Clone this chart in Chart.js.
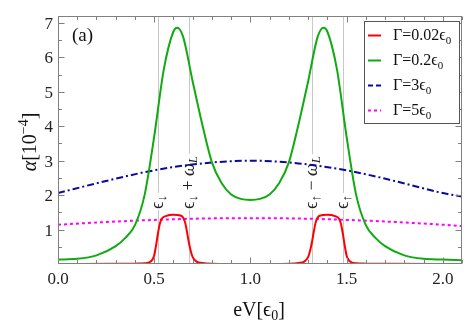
<!DOCTYPE html>
<html>
<head>
<meta charset="utf-8">
<script src="https://cdn.jsdelivr.net/npm/chart.js@4.4.1/dist/chart.umd.min.js"></script>
<style>
  html, body { margin: 0; padding: 0; background: #fff; }
  #wrap { width: 471px; height: 328px; }
</style>
</head>
<body>
<div id="wrap"><canvas id="alphaChart" width="471" height="328"></canvas></div>
<script>
// Γ = 0.02 ε0 (red)
const redX = [0, 0.3, 0.4, 0.45, 0.47, 0.49, 0.5, 0.51, 0.52, 0.53, 0.54, 0.56, 0.6, 0.64, 0.66, 0.67, 0.68, 0.69, 0.7, 0.72, 0.75, 0.8, 1.0,
              1.2, 1.25, 1.28, 1.3, 1.31, 1.32, 1.33, 1.34, 1.36, 1.4, 1.44, 1.46, 1.47, 1.48, 1.49, 1.5, 1.51, 1.53, 1.55, 1.6, 1.7, 2.1];
const redY = [0, 0.005, 0.01, 0.02, 0.04, 0.12, 0.25, 0.55, 0.9, 1.18, 1.32, 1.39, 1.43, 1.4, 1.22, 0.95, 0.63, 0.38, 0.2, 0.07, 0.03, 0.01, 0,
              0.01, 0.03, 0.07, 0.2, 0.38, 0.63, 0.95, 1.22, 1.4, 1.43, 1.39, 1.32, 1.18, 0.9, 0.55, 0.25, 0.12, 0.04, 0.02, 0.01, 0.005, 0];

// Γ = 0.2 ε0 (green)
const greenX = [0, 0.1, 0.2, 0.3, 0.35, 0.4, 0.45, 0.5, 0.55, 0.6, 0.62, 0.65, 0.7, 0.75, 0.8, 0.85, 0.9, 0.95, 1.0,
                1.05, 1.1, 1.15, 1.2, 1.25, 1.3, 1.35, 1.38, 1.4, 1.45, 1.5, 1.55, 1.6, 1.65, 1.7, 1.8, 1.9, 2.0, 2.1];
const greenY = [0.13, 0.15, 0.25, 0.52, 0.76, 1.13, 2.0, 3.7, 5.65, 6.75, 6.86, 6.6, 5.3, 4.05, 2.95, 2.35, 2.02, 1.89, 1.86,
                1.89, 2.02, 2.35, 2.95, 4.05, 5.3, 6.6, 6.86, 6.75, 5.65, 3.7, 2.0, 1.13, 0.76, 0.52, 0.25, 0.15, 0.13, 0.11];

// Γ = 3 ε0 (blue, dash-dot)
const blueX = [0, 0.25, 0.5, 0.75, 1.0, 1.25, 1.5, 1.75, 2.0, 2.1];
const blueY = [2.06, 2.41, 2.72, 2.92, 3.0, 2.92, 2.72, 2.41, 2.06, 1.96];

// Γ = 5 ε0 (magenta, dotted)
const magX = [0, 0.25, 0.5, 0.75, 1.0, 1.25, 1.5, 1.75, 2.0, 2.1];
const magY = [1.14, 1.22, 1.28, 1.32, 1.33, 1.32, 1.28, 1.22, 1.14, 1.1];

// axes
const xMajorTicks = [0, 0.5, 1.0, 1.5, 2.0];
const xTickLabels = ['0.0', '0.5', '1.0', '1.5', '2.0'];
const xMinorTicks = [0.1, 0.2, 0.3, 0.4, 0.6, 0.7, 0.8, 0.9, 1.1, 1.2, 1.3, 1.4, 1.6, 1.7, 1.8, 1.9, 2.1];
const yMajorTicks = [1, 2, 3, 4, 5, 6, 7];
const yTickLabels = ['1', '2', '3', '4', '5', '6', '7'];
const yMinorTicks = [0.5, 1.5, 2.5, 3.5, 4.5, 5.5, 6.5];

// vertical marker lines: ε↓, ε↓+ωL, ε↑−ωL, ε↑
const markX = [0.52, 0.68, 1.32, 1.48];
const markLabels = [
  [{t: 'ϵ'}, {t: '↓', sub: true}],
  [{t: 'ϵ'}, {t: '↓', sub: true}, {t: ' + '}, {t: 'ω', it: true}, {t: 'L', sub: true, it: true}],
  [{t: 'ϵ'}, {t: '↑', sub: true}, {t: ' − '}, {t: 'ω', it: true}, {t: 'L', sub: true, it: true}],
  [{t: 'ϵ'}, {t: '↑', sub: true}]
];

const legendLabels = [
  [{t: 'Γ=0.02'}, {t: 'ϵ'}, {t: '0', sub: true}],
  [{t: 'Γ=0.2'}, {t: 'ϵ'}, {t: '0', sub: true}],
  [{t: 'Γ=3'}, {t: 'ϵ'}, {t: '0', sub: true}],
  [{t: 'Γ=5'}, {t: 'ϵ'}, {t: '0', sub: true}]
];

const SERIF = '"Liberation Serif", "DejaVu Serif", serif';

function fontOf(p, size) {
  const s = (p.sub || p.sup) ? Math.round(size * 0.7) : size;
  return (p.it ? 'italic ' : '') + s + 'px ' + SERIF;
}
function measureRich(ctx, parts, size) {
  let w = 0;
  parts.forEach(p => { ctx.font = fontOf(p, size); w += ctx.measureText(p.t).width; });
  return w;
}
function drawRich(ctx, parts, x, y, size, align) {
  const w = measureRich(ctx, parts, size);
  let cx = align === 'center' ? x - w / 2 : align === 'right' ? x - w : x;
  ctx.textAlign = 'left';
  ctx.textBaseline = 'alphabetic';
  parts.forEach(p => {
    ctx.font = fontOf(p, size);
    const dy = p.sub ? size * 0.22 : p.sup ? -size * 0.42 : 0;
    ctx.fillText(p.t, cx, y + dy);
    cx += ctx.measureText(p.t).width;
  });
  return w;
}

const toPoints = (xs, ys) => xs.map((v, i) => ({x: v, y: ys[i]}));

const markerPlugin = {
  id: 'markers',
  beforeDatasetsDraw(chart) {
    const {ctx, chartArea: a, scales: {x, y}} = chart;
    ctx.save();
    const labelY = y.getPixelForValue(1.6);
    markX.forEach((v, i) => {
      const px = Math.round(x.getPixelForValue(v)) + 0.5;
      ctx.strokeStyle = '#c8c8c8';
      ctx.lineWidth = 1;
      ctx.beginPath();
      ctx.moveTo(px, a.top);
      ctx.lineTo(px, a.bottom);
      ctx.stroke();
      ctx.save();
      ctx.translate(px, labelY);
      ctx.rotate(-Math.PI / 2);
      const w = measureRich(ctx, markLabels[i], 18);
      ctx.fillStyle = '#fff';
      ctx.fillRect(-1, -3, w + 3, 6);
      ctx.fillStyle = '#222';
      drawRich(ctx, markLabels[i], 0, 4, 18, 'left');
      ctx.restore();
    });
    ctx.restore();
  },
  afterDatasetsDraw(chart) {
    const {ctx, chartArea: a, scales: {x, y}} = chart;
    ctx.save();
    ctx.strokeStyle = '#808080';
    ctx.lineWidth = 1;
    const L = Math.round(a.left) + 0.5, R = Math.round(a.right) - 0.5;
    const T = Math.round(a.top) + 0.5, B = Math.round(a.bottom) - 0.5;
    ctx.strokeRect(L, T, R - L, B - T);
    ctx.beginPath();
    const xt = (v, len) => {
      const px = Math.round(x.getPixelForValue(v)) + 0.5;
      ctx.moveTo(px, B); ctx.lineTo(px, B - len);
      ctx.moveTo(px, T); ctx.lineTo(px, T + len);
    };
    const yt = (v, len) => {
      const py = Math.round(y.getPixelForValue(v)) + 0.5;
      ctx.moveTo(L, py); ctx.lineTo(L + len, py);
      ctx.moveTo(R, py); ctx.lineTo(R - len, py);
    };
    xMajorTicks.forEach(v => xt(v, 6));
    xMinorTicks.forEach(v => xt(v, 3.5));
    yMajorTicks.forEach(v => yt(v, 6));
    yMinorTicks.forEach(v => yt(v, 3.5));
    ctx.stroke();

    // tick labels
    ctx.fillStyle = '#222';
    xMajorTicks.forEach((v, i) => drawRich(ctx, [{t: xTickLabels[i]}], x.getPixelForValue(v), 284, 17, 'center'));
    yMajorTicks.forEach((v, i) => drawRich(ctx, [{t: yTickLabels[i]}], 53, y.getPixelForValue(v) + 6, 17, 'right'));

    // panel tag
    ctx.fillStyle = '#111';
    drawRich(ctx, [{t: '(a)'}], 72, 41, 19, 'left');

    // legend
    const bx = 364.5, by = 21.5, bw = 95, bh = 102;
    ctx.fillStyle = '#fff';
    ctx.fillRect(bx, by, bw, bh);
    ctx.strokeStyle = '#555';
    ctx.lineWidth = 1;
    ctx.strokeRect(bx, by, bw, bh);
    chart.data.datasets.forEach((ds, i) => {
      const ly = 35.5 + i * 25;
      ctx.strokeStyle = ds.borderColor;
      ctx.lineWidth = 2;
      ctx.setLineDash(ds.legendDash || []);
      ctx.beginPath();
      ctx.moveTo(368, ly);
      ctx.lineTo(381, ly);
      ctx.stroke();
      ctx.setLineDash([]);
      ctx.fillStyle = '#111';
      drawRich(ctx, legendLabels[i], 393, ly + 4.5, 16, 'left');
    });

    // axis titles
    ctx.fillStyle = '#111';
    drawRich(ctx, [{t: 'eV['}, {t: 'ϵ'}, {t: '0', sub: true}, {t: ']'}], 259, 316, 20, 'center');
    ctx.save();
    ctx.translate(36, 142);
    ctx.rotate(-Math.PI / 2);
    drawRich(ctx, [{t: 'α', it: true}, {t: '[10'}, {t: '−4', sup: true}, {t: ']'}], 0, 0, 20, 'center');
    ctx.restore();
    ctx.restore();
  }
};

const ctx = document.getElementById('alphaChart').getContext('2d');
new Chart(ctx, {
  type: 'line',
  data: {
    datasets: [
      {label: 'Γ=0.02ϵ₀', data: toPoints(redX, redY), borderColor: '#ff0000', borderWidth: 2},
      {label: 'Γ=0.2ϵ₀', data: toPoints(greenX, greenY), borderColor: '#11aa11', borderWidth: 2},
      {label: 'Γ=3ϵ₀', data: toPoints(blueX, blueY), borderColor: '#0a0aa0', borderWidth: 2,
       borderDash: [7, 3, 2, 3], legendDash: [5, 3]},
      {label: 'Γ=5ϵ₀', data: toPoints(magX, magY), borderColor: '#ff00ff', borderWidth: 2,
       borderDash: [3, 3], legendDash: [3, 3]}
    ]
  },
  options: {
    responsive: false,
    animation: false,
    layout: {padding: {top: 16, right: 9, left: 0, bottom: 0}},
    elements: {point: {radius: 0}, line: {cubicInterpolationMode: 'monotone', fill: false}},
    plugins: {legend: {display: false}, tooltip: {enabled: false}},
    scales: {
      x: {
        type: 'linear', min: 0, max: 2.1,
        grid: {display: false, drawTicks: false},
        border: {display: false},
        ticks: {display: false},
        afterBuildTicks: s => { s.ticks = xMajorTicks.map(v => ({value: v})); },
        afterFit: s => { s.height = 64; }
      },
      y: {
        type: 'linear', min: 0, max: 7.2,
        grid: {display: false, drawTicks: false},
        border: {display: false},
        ticks: {display: false},
        afterBuildTicks: s => { s.ticks = yMajorTicks.map(v => ({value: v})); },
        afterFit: s => { s.width = 58; }
      }
    }
  },
  plugins: [markerPlugin]
});
</script>
</body>
</html>
